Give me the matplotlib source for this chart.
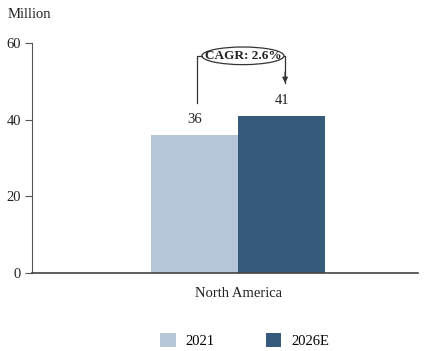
import matplotlib.pyplot as plt
from matplotlib.patches import Ellipse

plt.rcParams['font.family'] = ['Liberation Serif', 'DejaVu Serif']

regions = ["North America"]
years = ["2021", "2026E"]
values_2021 = [36]
values_2026 = [41]
cagr_text = "CAGR: 2.6%"
colors = ["#b7c5d8", "#365a7b"]

fs = 10.5

fig = plt.figure(figsize=(4.45, 3.51), dpi=100)
ax = fig.add_axes([0.072, 0.222, 0.867, 0.655])

w = 0.3
x0 = 0
ax.bar(x0 - w / 2, values_2021[0], width=w, color=colors[0], label=years[0])
ax.bar(x0 + w / 2, values_2026[0], width=w, color=colors[1], label=years[1])

for xc, v in [(x0 - w / 2, values_2021[0]), (x0 + w / 2, values_2026[0])]:
    ax.text(xc, v + 2.3, str(v), ha="center", va="bottom", fontsize=fs, color="#222222")

ax.set_xlim(-0.711, 0.62)
ax.set_ylim(0, 60)
ax.set_yticks([0, 20, 40, 60])
ax.set_xticks([x0])
ax.set_xticklabels(regions)
ax.tick_params(axis="x", length=0, pad=10, labelsize=fs, labelcolor="#222222")
ax.tick_params(axis="y", length=5, width=0.8, color="#555555", labelsize=fs,
               labelcolor="#222222", pad=3)
for s in ["top", "right"]:
    ax.spines[s].set_visible(False)
ax.spines["left"].set_color("#555555")
ax.spines["bottom"].set_color("#444444")
ax.spines["bottom"].set_linewidth(1.2)

# CAGR bracket from the 2021 bar to the 2026E bar
xl = x0 - w / 2 + 0.008
xr = x0 + w / 2 + 0.012
yb = 56.7
ell_l, ell_r = -0.125, 0.158
ax.plot([xl, xl, ell_l], [44.5, yb, yb], color="#333333", lw=0.9, clip_on=False)
ax.plot([ell_r, xr, xr], [yb, yb, 49.6], color="#333333", lw=0.9, clip_on=False)
ax.annotate("", xy=(xr, 49.6), xytext=(xr, 52.5),
            arrowprops=dict(arrowstyle="-|>", color="#333333", lw=0.9,
                            mutation_scale=8, shrinkA=0, shrinkB=0),
            annotation_clip=False)
ax.add_patch(Ellipse(((ell_l + ell_r) / 2, yb), ell_r - ell_l, 4.6,
                     facecolor="white", edgecolor="#333333", lw=0.9, clip_on=False))
ax.text((ell_l + ell_r) / 2, yb, cagr_text, ha="center", va="center",
        fontsize=9.5, fontweight="bold", color="#222222")

fig.text(0.018, 0.96, "Million", ha="left", va="center", fontsize=fs, color="#222222")

fig.legend(loc="center", bbox_to_anchor=(0.55, 0.03), ncol=2, frameon=False,
           fontsize=fs, handlelength=1.05, handleheight=1.05, columnspacing=3.5,
           handletextpad=0.7)

fig.savefig("out.png", dpi=100)
